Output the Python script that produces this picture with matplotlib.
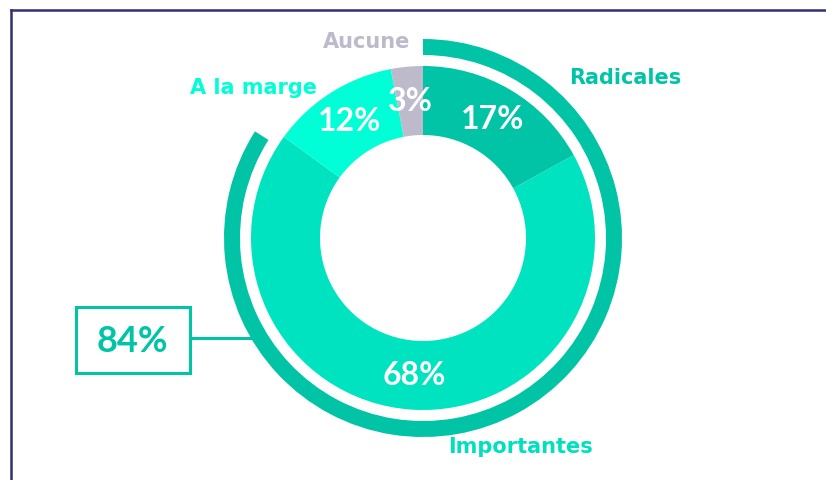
import matplotlib
matplotlib.use("Agg")
import matplotlib.pyplot as plt
from matplotlib.patches import Wedge, Rectangle

plt.rcParams['font.family'] = ['Lato', 'DejaVu Sans']

# data
categories = ['Radicales', 'Importantes', 'A la marge', 'Aucune']
values = [17, 68, 12, 3]
colors = ['#00C4A5', '#00E3C0', '#00FFD6', '#BDBBCB']
label_colors = ['#00C4A5', '#00E0BF', '#00FFD6', '#BCBACB']
outer_share = 84  # Radicales + Importantes, as printed

W, H = 826, 480
fig = plt.figure(figsize=(W / 100, H / 100), dpi=100)
ax = fig.add_axes([0, 0, 1, 1])

# pixel layout (y measured from top)
cx, cy = 423, 238
r_out, r_in = 172, 103
center = (cx, H - cy)

wedges, texts, autotexts = ax.pie(
    values, colors=colors, startangle=90, counterclock=False,
    center=center, radius=r_out,
    wedgeprops=dict(width=r_out - r_in, linewidth=0),
    autopct=lambda p: f"{p:.0f}%", pctdistance=(r_out + r_in) / 2 / r_out,
    textprops=dict(color='white', fontsize=23, fontweight='bold'))

# outer arc around the "important" share
theta2 = 90
theta1 = 90 - outer_share / 100 * 360
ax.add_patch(Wedge(center, 199, theta1, theta2, width=16,
                   facecolor='#00C4A5', linewidth=0))

# category labels
label_pos = {
    'Radicales': (625, 78),
    'Importantes': (521, 447),
    'A la marge': (253, 88),
    'Aucune': (367, 42),
}
for name, col in zip(categories, label_colors):
    x, y = label_pos[name]
    ax.text(x, H - y, name, color=col, fontsize=15, fontweight='bold',
            family='DejaVu Sans', ha='center', va='center')

# 84% callout box
ax.add_patch(Rectangle((76, H - 373), 114, 66, fill=False,
                       edgecolor='#00C4A5', linewidth=2.2))
ax.plot([190, 252], [H - 338, H - 338], color='#00C4A5', linewidth=2.2)
ax.text(132, H - 341, f"{outer_share}%", color='#00C4A5', fontsize=26,
        fontweight='bold', ha='center', va='center')

# outer frame (top and left visible)
ax.plot([11, W], [H - 10, H - 10], color='#2E3172', linewidth=1.8)
ax.plot([11, 11], [H - 10, 0], color='#2E3172', linewidth=1.8)

ax.set_xlim(0, W)
ax.set_ylim(0, H)
ax.set_aspect('equal')
ax.axis('off')

fig.savefig('out.png', dpi=100, facecolor='white')
